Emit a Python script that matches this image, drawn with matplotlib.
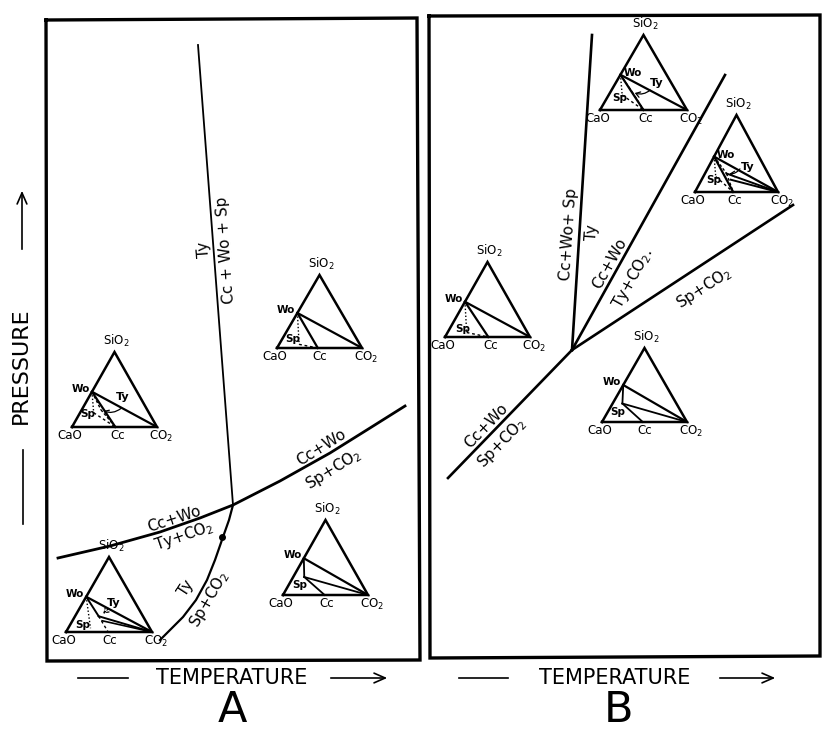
import matplotlib
matplotlib.use("Agg")
import matplotlib.pyplot as plt
from matplotlib.patches import FancyArrowPatch
import numpy as np

plt.rcParams['font.family'] = ['DejaVu Sans']

# ---------------- data (schematic coordinates, image pixel space) ----------------
# Panel A univariant curves
a_vert_x = [198, 233]
a_vert_y = [45, 505]
a_upper_x = [58, 110, 160, 200, 233, 280, 330, 370, 405]
a_upper_y = [558, 546, 532, 518, 505, 481, 453, 428, 406]
a_lower_x = [233, 229, 223, 215, 207, 196, 183, 170, 160]
a_lower_y = [505, 520, 537, 560, 580, 600, 617, 630, 640]
a_dot = (222, 537)

# Panel B univariant lines radiating from the invariant point
b_inv = (572, 350)
b_ends_x = [592, 725, 793, 448]
b_ends_y = [35, 75, 205, 478]

# Phase-boundary labels: text, x, y, rotation
curve_labels = [
    ("Ty", 204, 250, 94), ("Cc + Wo + Sp", 226, 250, 94),
    ("Cc+Wo", 174, 519, 18), ("Ty+CO$_2$", 184, 536, 19),
    ("Cc+Wo", 321, 447, 32), ("Sp+CO$_2$", 334, 469, 32),
    ("Ty", 186, 588, 57), ("Sp+CO$_2$", 209, 599, 60),
    ("Cc+Wo+ Sp", 569, 234, 86), ("Ty", 592, 232, 86),
    ("Cc+Wo", 610, 264, 61), ("Ty+CO$_2$.", 633, 278, 61),
    ("Sp+CO$_2$", 704, 288, 33),
    ("Cc+Wo", 486, 426, 46), ("Sp+CO$_2$", 502, 443, 46),
]

# Composition triangles: CaO-corner x, y, width, height, Wo fraction, Cc fraction
tri_x0 = [72, 66, 277, 283, 445, 600, 695, 602]
tri_y0 = [427, 632, 348, 595, 337, 110, 192, 422]
tri_w = [85, 86, 85, 85, 85, 87, 83, 85]
tri_h = [75, 75, 73, 75, 75, 75, 77, 74]
tri_wo = [0.47, 0.47, 0.48, 0.49, 0.47, 0.47, 0.46, 0.50]
tri_cc = [0.51, 0.49, 0.48, 0.49, 0.51, 0.50, 0.46, 0.48]
# Sp point (u, v) in triangle coordinates
tri_sp = [(0.34, 0.23), (0.38, 0.21), (0.29, 0.09), (0.25, 0.24),
          (0.27, 0.10), (0.37, 0.24), (0.38, 0.24), (0.24, 0.25)]
# Type of tie-line arrangement
tri_kind = ["ty_arc", "ty_arrow", "plain", "sp_solid", "plain", "ty_arc", "ty_arc3", "sp_solid"]
tri_wo_right = [False, False, False, False, False, True, True, False]
tri_sp_label = [(0.19, 0.17), (0.20, 0.10), (0.19, 0.13), (0.20, 0.13),
                (0.21, 0.10), (0.23, 0.16), (0.22, 0.15), (0.19, 0.14)]
tri_ty_label = [(0.60, 0.40), (0.55, 0.39), None, None, None, (0.65, 0.36), (0.64, 0.33), None]
tri_ty_pt = [(0.60, 0.27), (0.52, 0.34), None, None, None, (0.60, 0.29), (0.56, 0.33), None]

# ---------------- figure ----------------
fig = plt.figure(figsize=(8.23, 7.30), dpi=100)
ax = fig.add_axes([0, 0, 1, 1])
ax.set_xlim(0, 823)
ax.set_ylim(730, 0)
ax.axis('off')

K = 'black'
# panel frames
ax.plot([46, 417, 420, 47, 46], [20, 18, 660, 661, 20], color=K, lw=2.4, solid_joinstyle='miter')
ax.plot([429, 820, 820, 430, 429], [16, 15, 656, 658, 16], color=K, lw=2.4, solid_joinstyle='miter')

# panel A curves
ax.plot(a_vert_x, a_vert_y, color=K, lw=1.3)
ax.plot(a_upper_x, a_upper_y, color=K, lw=2.0)
ax.plot(a_lower_x, a_lower_y, color=K, lw=1.6)
ax.plot([a_dot[0]], [a_dot[1]], 'o', color=K, ms=4)

# panel B lines
for ex, ey in zip(b_ends_x, b_ends_y):
    ax.plot([b_inv[0], ex], [b_inv[1], ey], color=K, lw=1.9)

for txt, x, y, r in curve_labels:
    ax.text(x, y, txt, rotation=r, rotation_mode='anchor', ha='center', va='center',
            fontsize=11, color=K)


def draw_tri(i):
    x0, y0, w, h = tri_x0[i], tri_y0[i], tri_w[i], tri_h[i]

    def P(u, v):
        return (x0 + u * w, y0 - v * h)

    t = tri_wo[i]
    wo = (0.5 * t, t)
    cc = (tri_cc[i], 0.0)
    co2 = (1.0, 0.0)
    sp = tri_sp[i]
    corners = [P(0, 0), P(1, 0), P(0.5, 1), P(0, 0)]
    ax.plot([c[0] for c in corners], [c[1] for c in corners], color=K, lw=1.8,
            solid_joinstyle='miter')

    def seg(a, b, **kw):
        pa, pb = P(*a), P(*b)
        ax.plot([pa[0], pb[0]], [pa[1], pb[1]], color=K, **kw)

    kind = tri_kind[i]
    seg(wo, co2, lw=1.6)
    if kind in ("ty_arc", "plain", "ty_arc3"):
        seg(wo, cc, lw=1.6)
        seg(wo, (wo[0] + 0.02, sp[1] - 0.04), lw=1.0, ls=(0, (1, 1.5)))
        seg((wo[0] + 0.02, sp[1] - 0.04), cc, lw=1.0, ls=(0, (2, 2)))
        if kind != "plain":
            seg(wo, sp, lw=1.0, ls=(0, (2, 1.5)))
            seg(sp, cc, lw=1.0, ls=(0, (2, 1.5)))
    if kind == "ty_arc3":
        seg(sp, co2, lw=1.4)
        seg((sp[0] + 0.05, sp[1] - 0.08), co2, lw=1.4)
    if kind == "ty_arrow":
        seg(wo, sp, lw=1.4)
        seg(sp, co2, lw=1.4)
        seg((sp[0] + 0.04, sp[1] - 0.06), co2, lw=1.2)
        seg(wo, (wo[0] + 0.05, 0.05), lw=1.0, ls=(0, (1, 1.5)))
        seg(sp, cc, lw=1.0, ls=(0, (2, 2)))
    if kind == "sp_solid":
        seg(wo, sp, lw=1.3)
        seg(sp, co2, lw=1.3)
        seg(sp, cc, lw=1.3)

    # Ty arc / arrow
    if tri_ty_pt[i] is not None:
        if kind == "ty_arrow":
            arr = FancyArrowPatch(P(*tri_ty_pt[i]), P(sp[0] + 0.03, sp[1] + 0.01),
                                  arrowstyle='->,head_length=3,head_width=2',
                                  linestyle=(0, (2, 1.5)), lw=0.9, color=K)
        else:
            arr = FancyArrowPatch(P(*tri_ty_pt[i]), P(*sp), connectionstyle='arc3,rad=-0.35',
                                  arrowstyle='->,head_length=3,head_width=2', lw=0.9, color=K)
        ax.add_patch(arr)
        tx, ty = P(*tri_ty_label[i])
        ax.text(tx, ty, "Ty", fontsize=8, fontweight='bold', ha='center', va='center')

    # labels
    ax_, ay_ = P(0.5, 1)
    ax.text(ax_ + 2, ay_ - 3, "SiO$_2$", fontsize=8.5, ha='center', va='bottom')
    cx, cy = P(0, 0)
    ax.text(cx - 2, cy + 2, "CaO", fontsize=8.5, ha='center', va='top')
    ccx, ccy = P(*cc)
    ax.text(ccx + 2, ccy + 2, "Cc", fontsize=8.5, ha='center', va='top')
    ox, oy = P(1, 0)
    ax.text(ox + 4, oy + 2, "CO$_2$", fontsize=8.5, ha='center', va='top')
    wx, wy = P(*wo)
    if tri_wo_right[i]:
        ax.text(wx + 3, wy - 2, "Wo", fontsize=7.5, fontweight='bold', ha='left', va='center')
    else:
        ax.text(wx - 2, wy - 3, "Wo", fontsize=7.5, fontweight='bold', ha='right', va='center')
    sx, sy = P(*tri_sp_label[i])
    ax.text(sx, sy, "Sp", fontsize=7.5, fontweight='bold', ha='center', va='center')


for i in range(len(tri_x0)):
    draw_tri(i)

# axis captions
ax.text(232, 678, "TEMPERATURE", fontsize=15, ha='center', va='center')
ax.plot([78, 128], [678, 678], color=K, lw=1.2)
ax.annotate("", xy=(390, 678), xytext=(328, 678),
            arrowprops=dict(arrowstyle='->,head_length=0.8,head_width=0.35', lw=1.2, color=K))
ax.text(615, 678, "TEMPERATURE", fontsize=15, ha='center', va='center')
ax.plot([459, 508], [678, 678], color=K, lw=1.2)
ax.annotate("", xy=(778, 678), xytext=(717, 678),
            arrowprops=dict(arrowstyle='->,head_length=0.8,head_width=0.35', lw=1.2, color=K))

ax.text(232, 710, "A", fontsize=31, ha='center', va='center')
ax.text(619, 710, "B", fontsize=31, ha='center', va='center')

ax.text(21, 366, "PRESSURE", fontsize=16, rotation=90, ha='center', va='center')
ax.annotate("", xy=(22, 188), xytext=(22, 252),
            arrowprops=dict(arrowstyle='->,head_length=0.8,head_width=0.35', lw=1.2, color=K))
ax.plot([23, 23], [450, 524], color=K, lw=1.2)

fig.savefig("out.png", dpi=100, facecolor='white')
